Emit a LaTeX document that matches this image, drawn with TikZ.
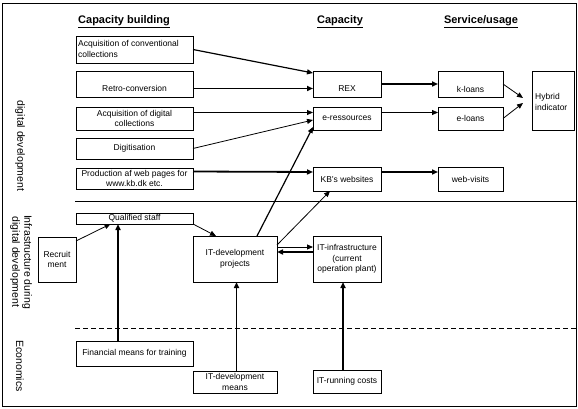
\documentclass[tikz,border=0pt]{standalone}
\usepackage{fontspec}
\setmainfont{Liberation Sans}
\usetikzlibrary{arrows.meta,calc}
\begin{document}
\begin{tikzpicture}[x=1pt,y=-1pt,
  box/.style={draw, line width=0.8pt, anchor=north west, inner sep=0pt, outer sep=0pt,
    font=\fontsize{8.5}{10.5}\selectfont, align=center},
  lbl/.style={font=\fontsize{8.5}{10.5}\selectfont, inner sep=0pt, align=center},
  hdr/.style={font=\fontsize{11}{13}\selectfont\bfseries, inner sep=0pt},
  side/.style={font=\fontsize{10.5}{12}\selectfont, inner sep=0pt, align=center, rotate=-90},
  conn/.style={line width=0.8pt, -{Triangle[length=6pt,width=5pt]}},
  connmid/.style={line width=1.2pt, -{Triangle[length=6pt,width=5pt]}},
  connthick/.style={line width=1.8pt, -{Triangle[length=6pt,width=5pt]}}
]
\useasboundingbox (0,0) rectangle (578,409);
\draw[line width=0.8pt] (2,3) rectangle (576,406);

% headers
\node[hdr, anchor=west] (hcb) at (78,22) {\underline{Capacity building}};
\node[hdr] (hcap) at (340,22) {\underline{Capacity}};
\node[hdr] (hsu) at (481,22) {\underline{Service/usage}};

% side labels
\node[side] (sdd) at (20,146) {digital development};
\node[side] (sinf) at (21,262) {Infrastructure during\\digital development};
\node[side] (seco) at (20,366) {Economics};

% dividers
\draw[line width=0.8pt] (75,201) -- (576,201);
\draw[line width=0.8pt, dash pattern=on 5pt off 3pt] (75,328) -- (576,328);

% capacity building boxes
\node[box, minimum width=117pt, minimum height=27pt] (acqconv) at (76,36) {};
\node[lbl, anchor=west, align=left] (acqconvt) at (78,49) {Acquisition of conventional\\collections};
\node[box, minimum width=117pt, minimum height=26pt] (retro) at (76,71) {};
\node[lbl] (retrot) at (134.5,88.5) {Retro-conversion};
\node[box, minimum width=117pt, minimum height=23pt] (acqdig) at (76,107) {Acquisition of digital\\collections};
\node[box, minimum width=117pt, minimum height=21pt] (digit) at (76,138) {Digitisation};
\node[box, minimum width=117pt, minimum height=21pt] (prod) at (76,168) {Production af web pages for\\www.kb.dk etc.};

% capacity boxes
\node[box, minimum width=68pt, minimum height=26pt] (rex) at (313,71) {};
\node[lbl] (rext) at (347,89) {REX};
\node[box, minimum width=68pt, minimum height=23pt] (eres) at (313,107) {e-ressources};
\node[box, minimum width=68pt, minimum height=24pt] (kb) at (313,167) {KB's websites};

% service boxes
\node[box, minimum width=65pt, minimum height=26pt] (kloans) at (438,71) {};
\node[lbl] (kloanst) at (470.5,89) {k-loans};
\node[box, minimum width=65pt, minimum height=23pt] (eloans) at (438,107) {e-loans};
\node[box, minimum width=65pt, minimum height=24pt] (web) at (438,167) {web-visits};
\node[box, minimum width=42pt, minimum height=59pt] (hybrid) at (532,71) {};
\node[lbl, anchor=west, align=left] (hybridt) at (535,102) {Hybrid\\indicator};

% infrastructure boxes
\node[box, minimum width=117pt, minimum height=11pt] (qual) at (76,213) {Qualified staff};
\node[box, minimum width=38pt, minimum height=45pt] (recruit) at (38,237) {Recruit\\ment};
\node[box, minimum width=84pt, minimum height=46pt] (itdev) at (193,236) {IT-development\\projects};
\node[box, minimum width=68pt, minimum height=46pt] (itinfra) at (313,236) {IT-infrastructure\\(current\\operation plant)};

% economics boxes
\node[box, minimum width=117pt, minimum height=25pt] (fin) at (76,341) {Financial means for training};
\node[box, minimum width=84pt, minimum height=22pt] (itmeans) at (193,371) {IT-development\\means};
\node[box, minimum width=68pt, minimum height=23pt] (itrun) at (313,370) {IT-running costs};

% connectors
\draw[connmid] (acqconv.east) -- ([yshift=11pt]rex.west);
\draw[connthick] ([yshift=-4.5pt]retro.east) -- ([yshift=-4.5pt]rex.west);
\draw[conn] ([yshift=6pt]acqdig.east) -- ([yshift=6pt]eres.west);
\draw[conn] (digit.east) -- ([yshift=-1.5pt]eres.west);
\draw[connthick] ([yshift=7pt]prod.east) -- ([yshift=7pt]kb.west);
\draw[connmid] ([xshift=22pt]itdev.north) -- ([yshift=3pt]eres.south west);
\draw[conn] ([yshift=14pt]itdev.east) -- ([xshift=-17pt]kb.south);
\draw[connthick] (rex.east) -- (kloans.west);
\draw[conn] ([yshift=6pt]eres.east) -- ([yshift=6pt]eloans.west);
\draw[connthick] ([yshift=7pt]kb.east) -- ([yshift=7pt]web.west);
\draw[conn] (kloans.east) -- ($(hybrid.west)+(-9,-2.5)$);
\draw[conn] (eloans.east) -- ($(hybrid.west)+(-9,2.5)$);
\draw[conn] (qual.south east) -- ([xshift=-19pt]itdev.north);
\draw[conn] ([yshift=-4pt]recruit.north east) -- ([xshift=-24pt]qual.south);
\draw[connthick] ([xshift=-16.5pt]fin.north) -- ([xshift=-16.5pt]qual.south);
\draw[connthick] ([xshift=1.5pt]itmeans.north) -- ([xshift=1.5pt]itdev.south);
\draw[connthick] ([xshift=-4pt]itrun.north) -- ([xshift=-4pt]itinfra.south);
\draw[conn] ([yshift=12pt]itdev.east) -- ([yshift=12pt]itinfra.west);
\draw[connthick] ([yshift=7pt]itinfra.west) -- ([yshift=7pt]itdev.east);
\end{tikzpicture}
\end{document}
